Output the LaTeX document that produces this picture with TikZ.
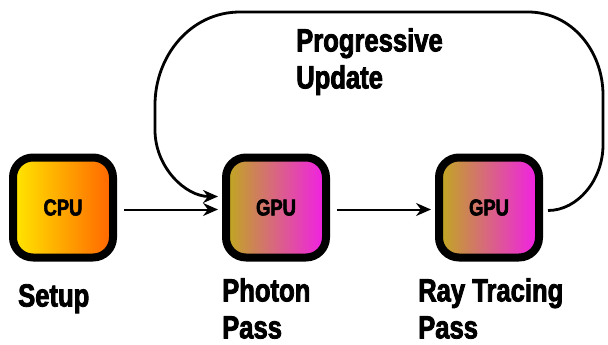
\documentclass[tikz,border=0pt]{standalone}
\usepackage{fontspec}
\setmainfont{Liberation Sans}[FakeStretch=0.8, BoldFeatures={FakeBold=2.5}]
\usetikzlibrary{arrows.meta}
\definecolor{cpuL}{RGB}{255,232,0}
\definecolor{cpuR}{RGB}{255,100,0}
\definecolor{gpuL}{RGB}{192,170,30}
\definecolor{gpuR}{RGB}{242,30,232}
\begin{document}
\begin{tikzpicture}[x=1pt,y=-1pt,
  box/.style={draw=black, line width=8pt, rounded corners=20pt, minimum width=100pt, minimum height=100pt, inner sep=0pt, font=\bfseries\fontsize{23}{27}\selectfont},
  cpubox/.style={box, left color=cpuL, right color=cpuR},
  gpubox/.style={box, left color=gpuL, right color=gpuR},
  lbl/.style={font=\bfseries\fontsize{32}{37}\selectfont, align=left, anchor=north west, inner sep=0pt},
  flow/.style={line width=2pt, -{Stealth[length=15pt,width=13pt,inset=5pt]}},
  loopline/.style={line width=2.8pt, -{Stealth[length=15pt,width=13pt,inset=5pt]}}]
\useasboundingbox (0,0) rectangle (608,345);
\node[cpubox] (cpu) at (63,207.5) {CPU};
\node[gpubox] (g1) at (276,207.5) {GPU};
\node[gpubox] (g2) at (489,207.5) {GPU};
\draw[flow, shorten <=7pt, shorten >=4pt] ([yshift=-2pt]cpu.east) -- ([yshift=-2pt]g1.west);
\draw[flow, shorten <=7pt, shorten >=4pt] ([yshift=-2pt]g1.east) -- ([yshift=-2pt]g2.west);
\draw[loopline, shorten <=5pt, shorten >=4pt] ([yshift=-3pt]g2.east) to[out=0,in=-90] (603,145) -- (603,95) to[out=90,in=0] (528,12) -- (240,12) to[out=180,in=90] (155,105) -- (155,130) to[out=-90,in=180] ([yshift=11pt]g1.west);
\node[lbl] (prog) at (296,28) {Progressive\\Update};
\node[lbl] (setup) at (18,284) {Setup};
\node[lbl] (photon) at (222,278) {Photon\\Pass};
\node[lbl] (ray) at (418,278) {Ray Tracing\\Pass};
\end{tikzpicture}
\end{document}
